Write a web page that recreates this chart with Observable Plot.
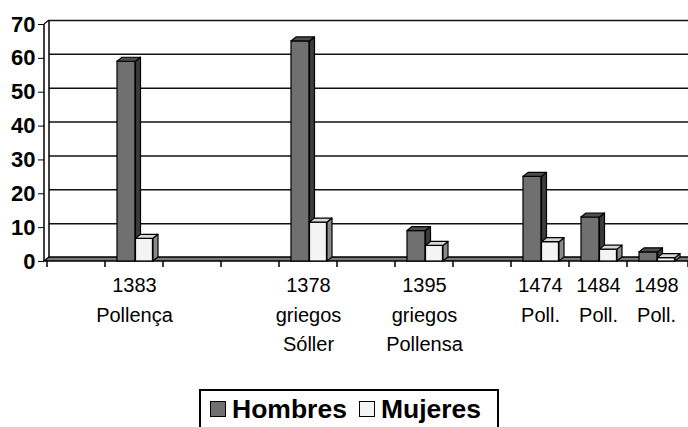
<!DOCTYPE html>
<html><head><meta charset="utf-8">
<script src="https://cdn.jsdelivr.net/npm/d3@7"></script>
<script src="https://cdn.jsdelivr.net/npm/@observablehq/plot@0.6"></script>
<style>
html,body{margin:0;padding:0;background:#fff;width:688px;height:427px;overflow:hidden;font-family:"Liberation Sans",Arial,sans-serif;}
#chart{position:absolute;left:0;top:0;}
#legend{position:absolute;left:199px;top:389px;width:300px;height:60px;box-sizing:border-box;border:2px solid #000;padding:3px 0 0 9px;display:flex;align-items:flex-start;}
.item{display:flex;align-items:center;height:30px;font-weight:bold;font-size:26.5px;line-height:30px;color:#000;margin-right:12px;}
.sw{width:14px;height:14px;border:1.5px solid #000;margin-right:6px;}
</style></head><body>
<div id="chart"></div>
<div id="legend"></div>
<script>
// ---- data ----
const slots = ["s0","s1","s2","s3","s4","s5","s6","s7","s8","s9","s10"];
const categories = ["1383\nPollença","1378\ngriegos\nSóller","1395\ngriegos\nPollensa","1474\nPoll.","1484\nPoll.","1498\nPoll."];
const categorySlots = [1, 4, 6, 8, 9, 10];
const seriesNames = ["Hombres", "Mujeres"];
const hombres = [59, 65, 9, 25, 13, 2.7];
const mujeres = [6.7, 11.5, 4.6, 5.7, 3.5, 1];
const yTicks = [0, 10, 20, 30, 40, 50, 60, 70];

// ---- styling ----
const W = 688, H = 385, ML = 44, MR = 0, MT = 24, MB = 124;
const BW = (W - ML - MR) / slots.length;
const DX = 5, DY = -4;
const colors = {
  Hombres: {front: "#707070", side: "#3c3c3c", top: "#4e4e4e"},
  Mujeres: {front: "#f4f4f4", side: "#8a8a8a", top: "#d8d8d8"}
};
const geom = {Hombres: {inL: 12, w: 18.5}, Mujeres: {inL: 30.5, w: 17.5}};

const rows = categories.map((c, i) => ({slot: slots[categorySlots[i]], label: c, Hombres: hombres[i], Mujeres: mujeres[i]}));

function sc(scales) { return scales && scales.x ? scales : (scales && scales.scales) || scales; }

// walls, floor, ticks
function walls(index, scales) {
  const {x, y} = sc(scales);
  const g = d3.create("svg:g");
  const [xr0, xr1] = x.range();
  const y0 = y(0), yTop = y(yTicks[yTicks.length - 1]);
  g.append("path")
    .attr("d", `M${xr0},${y0}L${xr1},${y0}L${xr1 + DX},${y0 + DY}L${xr0 + DX},${y0 + DY}Z`)
    .attr("fill", "#7a7a7a").attr("stroke", "#000").attr("stroke-width", 1.3);
  g.append("line").attr("x1", xr0 + DX).attr("x2", xr0 + DX).attr("y1", y0 + DY).attr("y2", yTop + DY)
    .attr("stroke", "#000").attr("stroke-width", 1.5);
  g.append("line").attr("x1", xr0).attr("x2", xr0).attr("y1", y0).attr("y2", yTop)
    .attr("stroke", "#000").attr("stroke-width", 1.5);
  g.append("line").attr("x1", xr0).attr("x2", xr0 + DX).attr("y1", yTop).attr("y2", yTop + DY)
    .attr("stroke", "#000").attr("stroke-width", 1.2);
  for (const s of slots.concat([null])) {
    const xx = s === null ? xr1 : x(s);
    g.append("line").attr("x1", xx).attr("x2", xx).attr("y1", y0).attr("y2", y0 + 6)
      .attr("stroke", "#000").attr("stroke-width", 1.5);
  }
  return g.node();
}

function faces(series) {
  return function(index, scales) {
    const {x, y} = sc(scales);
    const g = d3.create("svg:g");
    const c = colors[series], gm = geom[series];
    for (const d of rows) {
      const x0 = x(d.slot) + gm.inL, x1 = x0 + gm.w, y0 = y(0), y1 = y(d[series]);
      g.append("path").attr("d", `M${x1},${y0}L${x1},${y1}L${x1 + DX},${y1 + DY}L${x1 + DX},${y0 + DY}Z`)
        .attr("fill", c.side).attr("stroke", "#000").attr("stroke-width", 1.2).attr("stroke-linejoin", "round");
      g.append("path").attr("d", `M${x0},${y1}L${x0 + DX},${y1 + DY}L${x1 + DX},${y1 + DY}L${x1},${y1}Z`)
        .attr("fill", c.top).attr("stroke", "#000").attr("stroke-width", 1.2).attr("stroke-linejoin", "round");
    }
    return g.node();
  };
}

function frontBars(series) {
  const gm = geom[series];
  return Plot.barY(rows, {
    x: "slot", y: series, fill: colors[series].front, stroke: "#000", strokeWidth: 1.2,
    insetLeft: gm.inL, insetRight: BW - gm.inL - gm.w
  });
}

const chart = Plot.plot({
  width: W, height: H,
  marginLeft: ML, marginRight: MR, marginTop: MT, marginBottom: MB,
  style: {fontFamily: "'Liberation Sans', Arial, sans-serif", fontSize: "22px", fontWeight: "bold", color: "#000", background: "#fff"},
  x: {domain: slots, padding: 0, axis: null},
  y: {domain: [0, 70], ticks: yTicks, tickSize: 6, tickPadding: 3, label: null},
  marks: [
    Plot.ruleY(yTicks.filter(v => v > 0), {dx: DX, dy: DY, stroke: "#111", strokeWidth: 1.5}),
    walls,
    frontBars("Hombres"),
    faces("Hombres"),
    frontBars("Mujeres"),
    faces("Mujeres"),
    Plot.text(rows, {x: "slot", text: "label", frameAnchor: "bottom", lineAnchor: "top", dy: 10,
      fontSize: 20, fontWeight: "normal", lineHeight: 1.47, fill: "#000"})
  ]
});
document.getElementById("chart").appendChild(chart);

const legend = document.getElementById("legend");
for (const name of seriesNames) {
  const it = document.createElement("div");
  it.className = "item";
  const sw = document.createElement("div");
  sw.className = "sw";
  sw.style.background = colors[name].front;
  it.appendChild(sw);
  it.appendChild(document.createTextNode(name));
  legend.appendChild(it);
}
</script>
</body></html>
